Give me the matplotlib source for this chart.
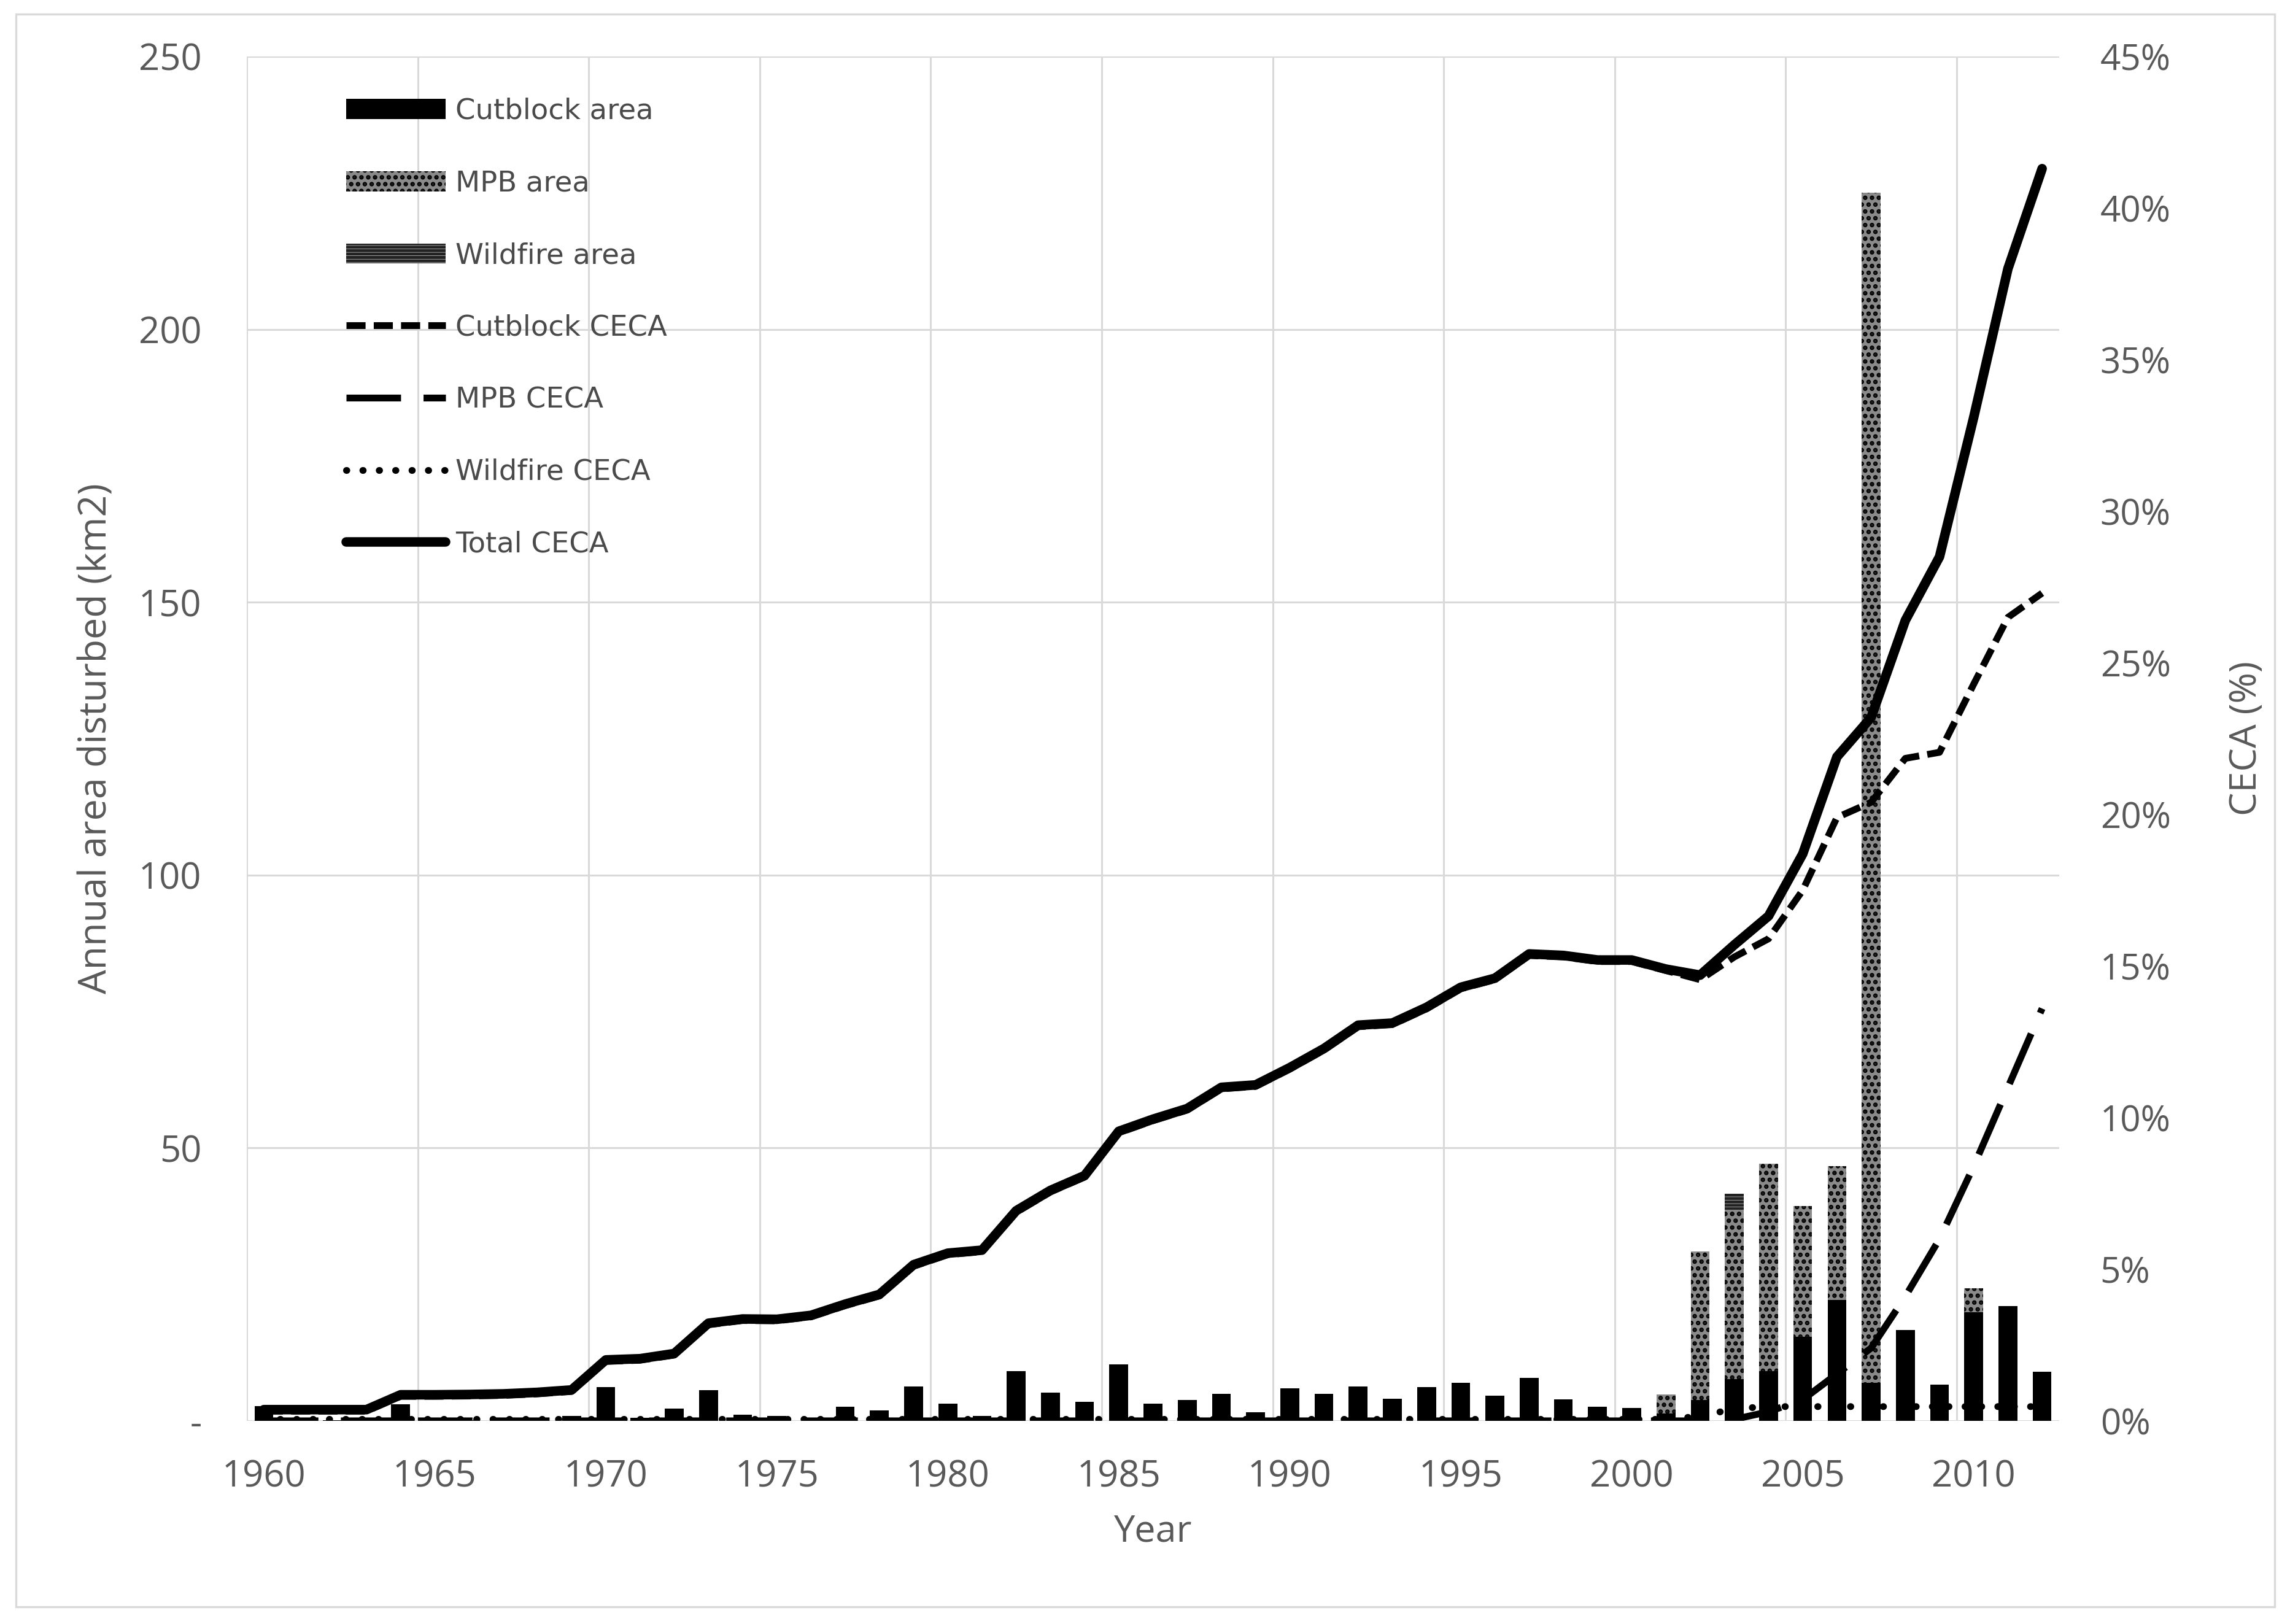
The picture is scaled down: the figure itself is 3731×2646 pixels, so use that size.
import matplotlib
matplotlib.use('Agg')
import matplotlib.pyplot as plt
from matplotlib.patches import Rectangle
from matplotlib.ticker import FuncFormatter, FixedLocator
import numpy as np

# ---------------- data ----------------
years = list(range(1960, 2013))
year_tick_labels = ['1960', '1965', '1970', '1975', '1980', '1985',
                    '1990', '1995', '2000', '2005', '2010']

cutblock_area = [2.7, 0.2, 0.1, 0.3, 3.0, 0.2, 0.1, 0.3, 0.4, 0.9,
                 6.2, 0.6, 2.2, 5.6, 1.1, 0.9, 0.5, 2.6, 1.9, 6.3,
                 3.2, 0.9, 9.1, 5.2, 3.5, 10.4, 3.2, 3.8, 5.0, 1.6,
                 6.0, 4.9, 6.3, 4.1, 6.2, 7.0, 4.6, 7.9, 3.9, 2.6,
                 2.4, 1.4, 3.8, 7.7, 9.1, 15.4, 22.1, 7.0, 16.6, 6.6,
                 19.9, 21.0, 9.0]
mpb_area = [0, 0, 0, 0, 0, 0, 0, 0, 0, 0,
            0, 0, 0, 0, 0, 0, 0, 0, 0, 0,
            0, 0, 0, 0, 0, 0, 0, 0, 0, 0,
            0, 0, 0, 0, 0, 0, 0, 0, 0, 0,
            0, 3.4, 27.2, 31.0, 38.0, 24.0, 24.6, 218.0, 0, 0,
            4.4, 0, 0]
wildfire_area = [0, 0, 0, 0, 0, 0, 0, 0, 0, 0,
                 0, 0, 0, 0, 0, 0, 0, 0, 0, 0,
                 0, 0, 0, 0, 0, 0, 0, 0, 0, 0,
                 0, 0, 0, 0, 0, 0, 0, 0, 0, 0,
                 0, 0, 0, 2.9, 0, 0, 0, 0, 0, 0,
                 0, 0, 0]

# CECA values in percent
cutblock_ceca = [0.32, 0.32, 0.32, 0.32, 0.81, 0.81, 0.82, 0.84, 0.89, 0.97,
                 1.96, 2.00, 2.17, 3.17, 3.31, 3.30, 3.43, 3.80, 4.12, 5.10,
                 5.48, 5.58, 6.88, 7.55, 8.04, 9.50, 9.90, 10.25, 10.95, 11.03,
                 11.60, 12.23, 13.00, 13.07, 13.59, 14.25, 14.55, 15.35, 15.30, 15.15,
                 15.15, 14.85, 14.55, 15.30, 15.90, 17.50, 19.90, 20.40, 21.85, 22.05,
                 24.30, 26.50, 27.30]
mpb_ceca = [0, 0, 0, 0, 0, 0, 0, 0, 0, 0,
            0, 0, 0, 0, 0, 0, 0, 0, 0, 0,
            0, 0, 0, 0, 0, 0, 0, 0, 0, 0,
            0, 0, 0, 0, 0, 0, 0, 0, 0, 0,
            0, 0, 0, 0.05, 0.3, 0.7, 1.55, 2.4, 4.1, 6.0,
            8.4, 11.0, 13.6]
wildfire_ceca = [0.05, 0.05, 0.05, 0.05, 0.05, 0.05, 0.05, 0.05, 0.05, 0.05,
                 0.05, 0.05, 0.05, 0.05, 0.05, 0.05, 0.05, 0.05, 0.05, 0.05,
                 0.05, 0.05, 0.05, 0.05, 0.05, 0.05, 0.05, 0.05, 0.05, 0.05,
                 0.05, 0.05, 0.05, 0.05, 0.05, 0.05, 0.05, 0.05, 0.05, 0.05,
                 0.05, 0.05, 0.15, 0.40, 0.47, 0.47, 0.47, 0.47, 0.47, 0.47,
                 0.47, 0.47, 0.47]
total_ceca = [0.37, 0.37, 0.37, 0.37, 0.86, 0.86, 0.87, 0.89, 0.94, 1.02,
              2.01, 2.05, 2.22, 3.22, 3.36, 3.35, 3.48, 3.85, 4.17, 5.15,
              5.53, 5.63, 6.93, 7.60, 8.09, 9.55, 9.95, 10.30, 11.00, 11.08,
              11.65, 12.28, 13.05, 13.12, 13.64, 14.30, 14.60, 15.40, 15.35, 15.20,
              15.20, 14.90, 14.70, 15.70, 16.65, 18.70, 21.90, 23.20, 26.40, 28.50,
              33.10, 38.00, 41.30]

left_ticks = [0, 50, 100, 150, 200, 250]
right_ticks = [0, 5, 10, 15, 20, 25, 30, 35, 40, 45]

# ---------------- figure ----------------
W, H, DPI = 3731, 2646, 200
fig = plt.figure(figsize=(W / DPI, H / DPI), dpi=DPI)
fig.patch.set_facecolor('white')

ax_l, ax_r, ax_t, ax_b = 402, 3355, 92, 2315
ax = fig.add_axes([ax_l / W, 1 - ax_b / H, (ax_r - ax_l) / W, (ax_b - ax_t) / H])
ax2 = ax.twinx()

TXT = '#595959'
GRID = '#D9D9D9'

x = np.arange(len(years))
cut = np.array(cutblock_area)
mpb = np.array(mpb_area)
wf = np.array(wildfire_area)

bw = 0.55
plt.rcParams['hatch.linewidth'] = 1.8
b1 = ax.bar(x, cut, width=bw, color='black', linewidth=0, zorder=2)
b2 = ax.bar(x, mpb, width=bw, bottom=cut, facecolor='#8a8a8a', edgecolor='black',
            hatch='...', linewidth=0, zorder=2)
b3 = ax.bar(x, wf, width=bw, bottom=cut + mpb, facecolor='white', edgecolor='#222222',
            hatch='------', linewidth=0, zorder=2)

ax.set_xlim(-0.5, len(years) - 0.5)
ax.set_ylim(0, 250)
ax2.set_ylim(0, 45)

# lines on secondary axis
lw_main = 5.6
lw_sub = 4.0
l_cut, = ax2.plot(x, cutblock_ceca, color='black', lw=lw_sub, dashes=(2.8, 1.2),
                  dash_capstyle='butt', solid_joinstyle='round')
l_mpb, = ax2.plot(x, mpb_ceca, color='black', lw=lw_sub, dashes=(8, 3.3),
                  dash_capstyle='butt')
l_wf, = ax2.plot(x, wildfire_ceca, color='black', lw=lw_sub, dashes=(0.05, 2.35),
                 dash_capstyle='round')
l_tot, = ax2.plot(x, total_ceca, color='black', lw=lw_main, solid_capstyle='round',
                  solid_joinstyle='round')

# axes / grid
for a in (ax, ax2):
    for s in a.spines.values():
        s.set_visible(False)

ax.set_axisbelow(True)
ax.yaxis.set_major_locator(FixedLocator(left_ticks))
ax.yaxis.set_major_formatter(FuncFormatter(lambda v, p: '-' if v == 0 else f'{v:.0f}'))
ax.grid(True, axis='y', color=GRID, lw=1.1, zorder=0)
ax.xaxis.set_major_locator(FixedLocator([years.index(int(t)) for t in year_tick_labels]))
ax.set_xticklabels(year_tick_labels)
ax.xaxis.set_minor_locator(FixedLocator([years.index(int(t)) - 0.5 for t in year_tick_labels]))
ax.grid(True, axis='x', which='minor', color=GRID, lw=1.1, zorder=0)
ax.grid(False, axis='x', which='major')
ax.tick_params(axis='both', which='both', length=0)
ax.tick_params(axis='y', pad=26.5, labelcolor=TXT)
ax.tick_params(axis='x', pad=22, labelcolor=TXT)
for lab in ax.get_xticklabels() + ax.get_yticklabels():
    lab.set_fontfamily('Open Sans')
    lab.set_fontsize(21.5)

ax2.yaxis.set_major_locator(FixedLocator(right_ticks))
ax2.yaxis.set_major_formatter(FuncFormatter(lambda v, p: f'{v:.0f}%'))
ax2.tick_params(axis='y', length=0, pad=24, labelcolor=TXT)
for lab in ax2.get_yticklabels():
    lab.set_fontfamily('Open Sans')
    lab.set_fontsize(21)

ax.set_ylabel('Annual area disturbed (km2)', fontfamily='Open Sans', fontsize=22.6, color=TXT)
ax.yaxis.set_label_coords((157 - ax_l) / (ax_r - ax_l), 0.5)
ax2.set_ylabel('CECA (%)', fontfamily='Open Sans', fontsize=22, color=TXT, rotation=90)
ax2.yaxis.set_label_coords((3660 - ax_l) / (ax_r - ax_l), 0.5)
ax.set_xlabel('Year', fontfamily='Open Sans', fontsize=22, color=TXT)
ax.xaxis.set_label_coords(0.5, (ax_b - 2496) / (ax_b - ax_t))
ax.xaxis.label.set_verticalalignment('center')
ax.yaxis.label.set_verticalalignment('center')
ax2.yaxis.label.set_verticalalignment('center')

# legend
handles = [b1, b2, b3, l_cut, l_mpb, l_wf, l_tot]
labels = ['Cutblock area', 'MPB area', 'Wildfire area', 'Cutblock CECA',
          'MPB CECA', 'Wildfire CECA', 'Total CECA']
leg = ax2.legend(handles, labels, loc='upper left',
                 bbox_to_anchor=(564 / W, 1 - 159 / H), bbox_transform=fig.transFigure,
                 frameon=False, prop=dict(family='DejaVu Sans', size=16.75),
                 handlelength=3.48, handletextpad=0.34, labelspacing=1.56,
                 borderpad=0, borderaxespad=0)
for t in leg.get_texts():
    t.set_color('#4a4a4a')

# outer border
fig.patches.append(Rectangle((26 / W, 1 - 2618 / H), (3706 - 26) / W, (2618 - 23) / H,
                             transform=fig.transFigure, fill=False,
                             edgecolor=GRID, linewidth=1.2))

fig.savefig('out.png', dpi=DPI, facecolor='white')
